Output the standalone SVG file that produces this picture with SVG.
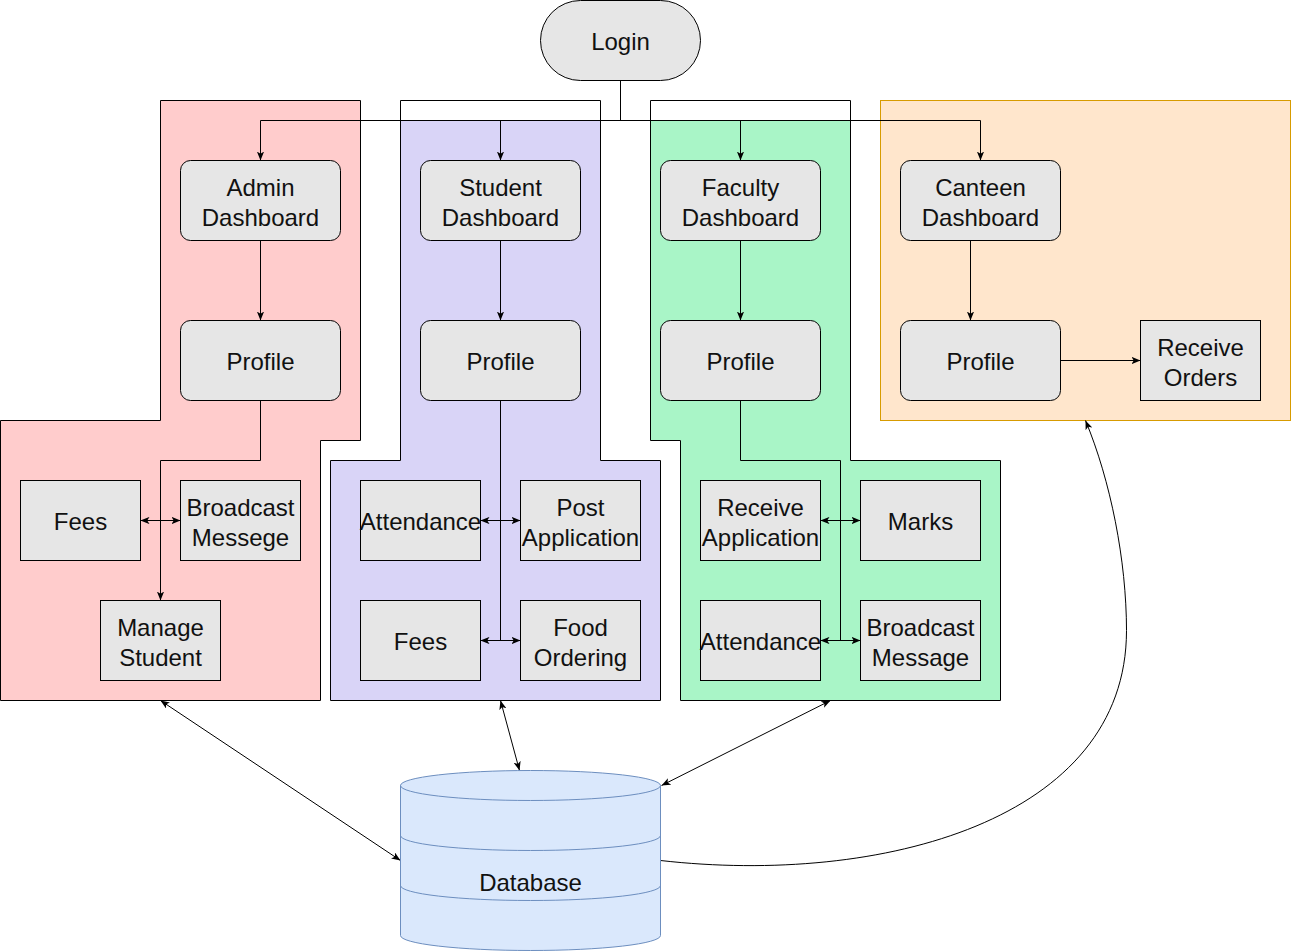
<svg xmlns="http://www.w3.org/2000/svg" width="1291" height="951" viewBox="0 0 1291 951">
<defs>
<style>
.node{fill:#e6e6e6;stroke:#000;stroke-width:1}
.t{font-family:"Liberation Sans",Arial,Helvetica,sans-serif;font-size:24px;fill:#111;text-anchor:middle}
.c{fill:none;stroke:#000;stroke-width:1}
.panel{stroke:#000;stroke-width:1}
</style>
<marker id="arr" viewBox="0 0 10 8" refX="10" refY="4" markerWidth="9" markerHeight="7.2" markerUnits="userSpaceOnUse" orient="auto-start-reverse">
<path d="M0,0 L10,4 L0,8 L2.5,4 z" fill="#000"/>
</marker>
</defs>
<rect x="0" y="0" width="1291" height="951" fill="#fff"/>
<g transform="translate(0.5,0.5)">
<!-- panels -->
<g id="panel-admin">
<polygon class="panel" fill="#ffcccc" points="160,100 360,100 360,440 320,440 320,700 0,700 0,420 160,420"/>
</g>
<g id="panel-student">
<polygon class="panel" fill="#ffffff" points="400,100 600,100 600,460 660,460 660,700 330,700 330,460 400,460"/>
<polygon fill="#d9d4f7" points="400.5,120 599.5,120 599.5,460.5 659.5,460.5 659.5,699.5 330.5,699.5 330.5,460.5 400.5,460.5"/>
</g>
<g id="panel-faculty">
<polygon class="panel" fill="#ffffff" points="650,100 850,100 850,460 1000,460 1000,700 680,700 680,440 650,440"/>
<polygon fill="#a9f5c7" points="650.5,120 849.5,120 849.5,460.5 999.5,460.5 999.5,699.5 680.5,699.5 680.5,439.5 650.5,439.5"/>
</g>
<g id="panel-canteen">
<rect x="880" y="100" width="410" height="320" fill="#ffe6cc" stroke="#d79b00" stroke-width="1"/>
</g>

<!-- connectors -->
<g id="connectors">
<path class="c" d="M620,80 V120 M260,120 H980"/>
<path class="c" d="M260,120 V160" marker-end="url(#arr)"/>
<path class="c" d="M500,120 V160" marker-end="url(#arr)"/>
<path class="c" d="M740,120 V160" marker-end="url(#arr)"/>
<path class="c" d="M980,120 V160" marker-end="url(#arr)"/>
<path class="c" d="M260,240 V320" marker-end="url(#arr)"/>
<path class="c" d="M500,240 V320" marker-end="url(#arr)"/>
<path class="c" d="M740,240 V320" marker-end="url(#arr)"/>
<path class="c" d="M970,240 V320" marker-end="url(#arr)"/>
<path class="c" d="M1060,360 H1140" marker-end="url(#arr)"/>
<path class="c" d="M260,400 V460 H160 V600" marker-end="url(#arr)"/>
<path class="c" d="M140,520 H180" marker-start="url(#arr)" marker-end="url(#arr)"/>
<path class="c" d="M500,400 V640"/>
<path class="c" d="M480,520 H520" marker-start="url(#arr)" marker-end="url(#arr)"/>
<path class="c" d="M480,640 H520" marker-start="url(#arr)" marker-end="url(#arr)"/>
<path class="c" d="M740,400 V460 H840 V640"/>
<path class="c" d="M820,520 H860" marker-start="url(#arr)" marker-end="url(#arr)"/>
<path class="c" d="M820,640 H860" marker-start="url(#arr)" marker-end="url(#arr)"/>
<path class="c" d="M160,700 L400,860" marker-start="url(#arr)" marker-end="url(#arr)"/>
<path class="c" d="M500,700 L519,770" marker-start="url(#arr)" marker-end="url(#arr)"/>
<path class="c" d="M830,700 L661,785" marker-start="url(#arr)" marker-end="url(#arr)"/>
<path class="c" d="M660,860 C880,885 1126,820 1126,630 C1126,560 1110,480 1085,420" marker-end="url(#arr)"/>
</g>

<!-- nodes -->
<g id="login">
<rect class="node" x="540" y="0" width="160" height="80" rx="40" ry="40"/>
<text class="t" x="620" y="49">Login</text>
</g>
<g id="admin-dashboard">
<rect class="node" x="180" y="160" width="160" height="80" rx="10"/>
<text class="t" x="260" y="195">Admin</text><text class="t" x="260" y="225">Dashboard</text>
</g>
<g id="student-dashboard">
<rect class="node" x="420" y="160" width="160" height="80" rx="10"/>
<text class="t" x="500" y="195">Student</text><text class="t" x="500" y="225">Dashboard</text>
</g>
<g id="faculty-dashboard">
<rect class="node" x="660" y="160" width="160" height="80" rx="10"/>
<text class="t" x="740" y="195">Faculty</text><text class="t" x="740" y="225">Dashboard</text>
</g>
<g id="canteen-dashboard">
<rect class="node" x="900" y="160" width="160" height="80" rx="10"/>
<text class="t" x="980" y="195">Canteen</text><text class="t" x="980" y="225">Dashboard</text>
</g>
<g id="admin-profile">
<rect class="node" x="180" y="320" width="160" height="80" rx="10"/>
<text class="t" x="260" y="369">Profile</text>
</g>
<g id="student-profile">
<rect class="node" x="420" y="320" width="160" height="80" rx="10"/>
<text class="t" x="500" y="369">Profile</text>
</g>
<g id="faculty-profile">
<rect class="node" x="660" y="320" width="160" height="80" rx="10"/>
<text class="t" x="740" y="369">Profile</text>
</g>
<g id="canteen-profile">
<rect class="node" x="900" y="320" width="160" height="80" rx="10"/>
<text class="t" x="980" y="369">Profile</text>
</g>
<g id="receive-orders">
<rect class="node" x="1140" y="320" width="120" height="80"/>
<text class="t" x="1200" y="355">Receive</text><text class="t" x="1200" y="385">Orders</text>
</g>
<g id="admin-fees">
<rect class="node" x="20" y="480" width="120" height="80"/>
<text class="t" x="80" y="529">Fees</text>
</g>
<g id="admin-broadcast">
<rect class="node" x="180" y="480" width="120" height="80"/>
<text class="t" x="240" y="515">Broadcast</text><text class="t" x="240" y="545">Messege</text>
</g>
<g id="manage-student">
<rect class="node" x="100" y="600" width="120" height="80"/>
<text class="t" x="160" y="635">Manage</text><text class="t" x="160" y="665">Student</text>
</g>
<g id="student-attendance">
<rect class="node" x="360" y="480" width="120" height="80"/>
<text class="t" x="420" y="529">Attendance</text>
</g>
<g id="post-application">
<rect class="node" x="520" y="480" width="120" height="80"/>
<text class="t" x="580" y="515">Post</text><text class="t" x="580" y="545">Application</text>
</g>
<g id="student-fees">
<rect class="node" x="360" y="600" width="120" height="80"/>
<text class="t" x="420" y="649">Fees</text>
</g>
<g id="food-ordering">
<rect class="node" x="520" y="600" width="120" height="80"/>
<text class="t" x="580" y="635">Food</text><text class="t" x="580" y="665">Ordering</text>
</g>
<g id="receive-application">
<rect class="node" x="700" y="480" width="120" height="80"/>
<text class="t" x="760" y="515">Receive</text><text class="t" x="760" y="545">Application</text>
</g>
<g id="marks">
<rect class="node" x="860" y="480" width="120" height="80"/>
<text class="t" x="920" y="529">Marks</text>
</g>
<g id="faculty-attendance">
<rect class="node" x="700" y="600" width="120" height="80"/>
<text class="t" x="760" y="649">Attendance</text>
</g>
<g id="faculty-broadcast">
<rect class="node" x="860" y="600" width="120" height="80"/>
<text class="t" x="920" y="635">Broadcast</text><text class="t" x="920" y="665">Message</text>
</g>
<g id="database">
<path d="M400,785 A130,15 0 0 1 660,785 V935 A130,15 0 0 1 400,935 Z" fill="#dae8fc" stroke="#6c8ebf" stroke-width="1"/>
<path d="M400,785 A130,15 0 0 0 660,785 M400,835 A130,15 0 0 0 660,835 M400,885 A130,15 0 0 0 660,885" fill="none" stroke="#6c8ebf" stroke-width="1"/>
<text class="t" x="530" y="890">Database</text>
</g>
</g>
</svg>
